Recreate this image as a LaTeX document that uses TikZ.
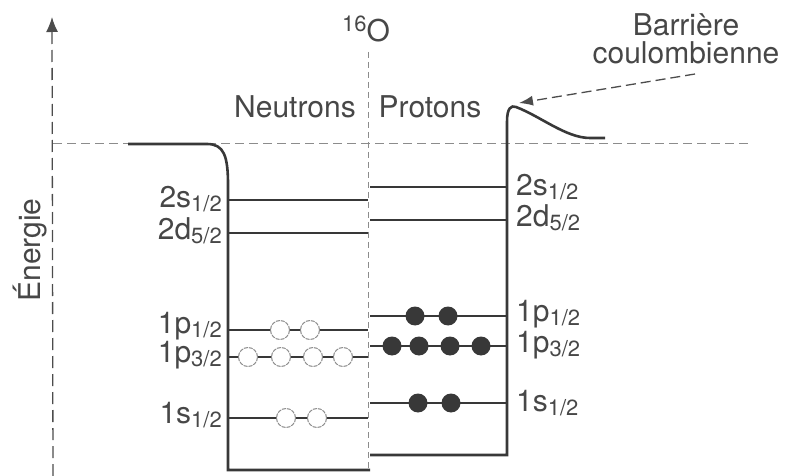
\documentclass[tikz,border=0pt]{standalone}
\usepackage{fontspec}
\setmainfont{TeX Gyre Heros}
\usetikzlibrary{arrows.meta}

% orbital label with lowered small j
\newcommand{\orb}[2]{#1\raisebox{-0.14em}{\fontsize{22}{22}\selectfont #2}}

\begin{document}
\begin{tikzpicture}[
  x=1pt, y=-1pt,
  every node/.style={text=black!72, font=\fontsize{30}{28}\selectfont, inner sep=0pt},
  well/.style={line width=2.6pt, draw=black!78},
  level/.style={line width=2.2pt, draw=black!78},
  guide/.style={line width=0.8pt, draw=black!45, dash pattern=on 9pt off 5pt},
  hole/.style={circle, minimum size=19pt, draw=black!45, line width=1pt, dash pattern=on 4pt off 1pt, fill=white},
  nucleon/.style={circle, minimum size=19pt, fill=black!78},
  axis/.style={line width=1.3pt, draw=black!70, dash pattern=on 12pt off 6pt, -{Latex[length=15pt,width=12pt]}},
  pointer/.style={line width=1.3pt, draw=black!70, dash pattern=on 10pt off 5pt, -{Latex[length=14pt,width=10pt]}}
]
\useasboundingbox (0,0) rectangle (788,476);

% Axis and reference lines
\coordinate (axbot) at (53,476);
\coordinate (axtop) at (52,17);
\draw[axis] (axbot) -- (axtop);
\node[rotate=90] (energy) at (30,250) {Énergie};
\draw[guide] (53,143) -- (750,143);
\draw[guide, dash pattern=on 6pt off 4pt] (368,52) -- (368,470);

% Titles
\node[anchor=base] (nucl) at (366,42) {\raisebox{10pt}{\fontsize{22}{22}\selectfont 16}O};
\node[anchor=base] (neut) at (295,118) {Neutrons};
\node[anchor=base] (prot) at (430,118) {Protons};
\node[align=center] (barr) at (686,39) {Barrière\\coulombienne};

% Wells
\draw[well] (128,144) -- (207,144) .. controls (224,144) and (228,156) .. (228,185) -- (228,470) -- (370,470);
\draw[well] (370,455) -- (507,455) -- (507,122) .. controls (507,108) and (511,105) .. (516,107)
  .. controls (540,116) and (566,138) .. (590,138) -- (605,138);

% Barrier arrow
\coordinate (tail) at (695,74);
\coordinate (peak) at (519,103);
\draw[pointer] (tail) -- (peak);

% Neutron levels
\draw[level] (228,200) -- (368,200);
\draw[level] (228,233) -- (368,233);
\draw[level] (228,330) -- (368,330);
\draw[level] (228,357) -- (368,357);
\draw[level] (228,418) -- (368,418);
\node[anchor=east] (n2s) at (222,199) {\orb{2s}{1/2}};
\node[anchor=east] (n2d) at (222,231) {\orb{2d}{5/2}};
\node[anchor=east] (n1pa) at (222,326) {\orb{1p}{1/2}};
\node[anchor=east] (n1pb) at (222,355) {\orb{1p}{3/2}};
\node[anchor=east] (n1s) at (222,415) {\orb{1s}{1/2}};

% Proton levels
\draw[level] (370,187) -- (507,187);
\draw[level] (370,220) -- (507,220);
\draw[level] (370,316) -- (507,316);
\draw[level] (370,346) -- (507,346);
\draw[level] (370,403) -- (507,403);
\node[anchor=west] (p2s) at (516,187) {\orb{2s}{1/2}};
\node[anchor=west] (p2d) at (516,218) {\orb{2d}{5/2}};
\node[anchor=west] (p1pa) at (516,314) {\orb{1p}{1/2}};
\node[anchor=west] (p1pb) at (516,345) {\orb{1p}{3/2}};
\node[anchor=west] (p1s) at (516,403) {\orb{1s}{1/2}};

% Neutrons (open)
\node[hole] (hn1) at (280,330) {};
\node[hole] (hn2) at (310,330) {};
\node[hole] (hn3) at (248,357) {};
\node[hole] (hn4) at (281,357) {};
\node[hole] (hn5) at (313,357) {};
\node[hole] (hn6) at (343,357) {};
\node[hole] (hn7) at (286,418) {};
\node[hole] (hn8) at (317,418) {};

% Protons (filled)
\node[nucleon] (fp1) at (415,316) {};
\node[nucleon] (fp2) at (448,316) {};
\node[nucleon] (fp3) at (392,346) {};
\node[nucleon] (fp4) at (419,346) {};
\node[nucleon] (fp5) at (450,346) {};
\node[nucleon] (fp6) at (481,346) {};
\node[nucleon] (fp7) at (418,403) {};
\node[nucleon] (fp8) at (451,403) {};

\end{tikzpicture}
\end{document}
